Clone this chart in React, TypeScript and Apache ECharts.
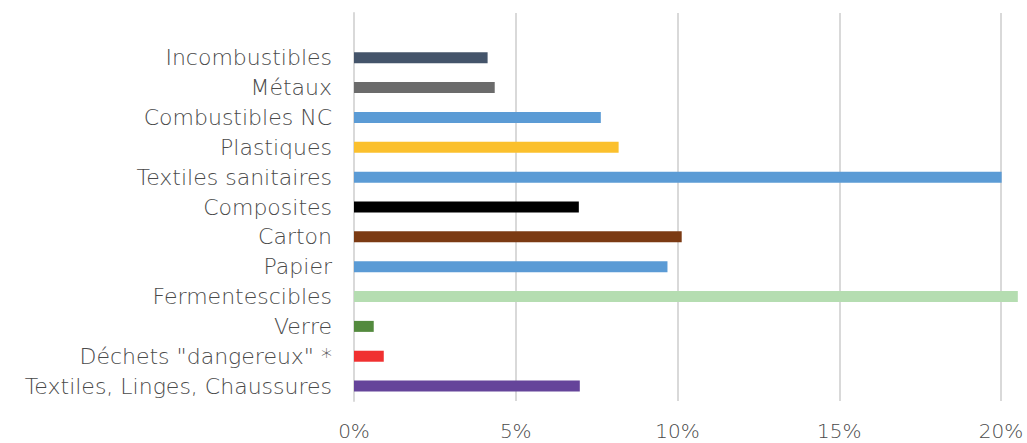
import React, { useEffect, useRef } from "react";
import * as echarts from "echarts";

// bottom-to-top order
const categories = [
  "Textiles, Linges, Chaussures",
  'Déchets "dangereux" *',
  "Verre",
  "Fermentescibles",
  "Papier",
  "Carton",
  "Composites",
  "Textiles sanitaires",
  "Plastiques",
  "Combustibles NC",
  "Métaux",
  "Incombustibles",
  "",
];
const values = [6.98, 0.92, 0.61, 20.52, 9.69, 10.13, 6.95, 20.02, 8.18, 7.63, 4.35, 4.13, null];
const colors = [
  "#65449A",
  "#F03030",
  "#538A3E",
  "#B5DDB1",
  "#5B9BD5",
  "#7B3A13",
  "#000000",
  "#5B9BD5",
  "#FBC02D",
  "#5B9BD5",
  "#6B6B6B",
  "#44546A",
  "#000000",
];
const tickValues = [0, 5, 10, 15, 20, 25];

export default function App() {
  const ref = useRef<HTMLDivElement>(null);
  useEffect(() => {
    document.body.style.margin = "0";
    const chart = echarts.init(ref.current!, undefined, { renderer: "svg" });
    const font = "'DejaVu Sans', sans-serif";
    chart.setOption({
      animation: false,
      grid: {
        left: 354,
        top: 13,
        height: 388,
        width: 32.35 * 25,
        outerBoundsMode: "none",
        containLabel: false,
      },
      xAxis: {
        type: "value",
        min: tickValues[0],
        max: tickValues[tickValues.length - 1],
        interval: 5,
        axisLine: { show: false },
        axisTick: { show: false },
        splitLine: { lineStyle: { color: "#D9D9D9", width: 2 } },
        axisLabel: {
          formatter: (v: number) => v + "%",
          showMaxLabel: false,
          color: "#4a4a4a",
          fontSize: 20,
          lineHeight: 20,
          fontWeight: 300,
          fontFamily: font,
          margin: 20,
        },
      },
      yAxis: {
        type: "category",
        data: categories,
        axisLine: { lineStyle: { color: "#D9D9D9", width: 2 } },
        axisTick: { show: false },
        axisLabel: {
          color: "#4a4a4a",
          fontSize: 22,
          fontWeight: 300,
          fontFamily: font,
          margin: 22,
        },
      },
      series: [
        {
          type: "bar",
          barWidth: 11,
          data: values.map((v, i) => ({ value: v, itemStyle: { color: colors[i] } })),
        },
      ],
    });
    return () => chart.dispose();
  }, []);
  return <div ref={ref} style={{ width: 1027, height: 443 }} />;
}
